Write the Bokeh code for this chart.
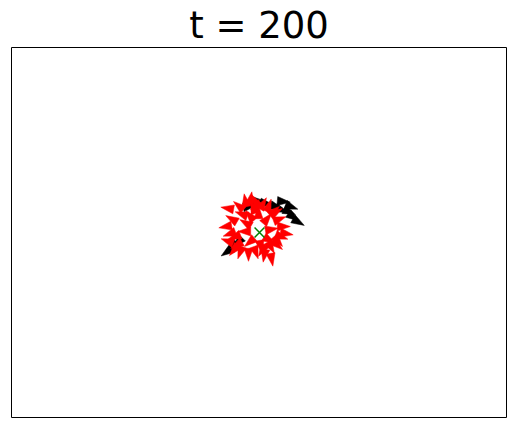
import numpy as np
from bokeh.plotting import figure
from bokeh.models import Range1d
from bokeh.embed import file_html
from bokeh.resources import INLINE

# Positions relative to the swarm centre (x right, y up) and headings in degrees
red_x = [-14, -9, -4, 3, 9, 14, -31, -27, -33, -29, -31, -25, -19, -11, -4, 3, 12,
         19, 23, 21, 17, 11, -9, -1, 7, 11, 9, 1, -9, -14, -13, -20, -22, 16, 26, -6, 5,
         -17, -24, 18, -3]
red_y = [31, 33, 31, 28, 26, 21, 24, 13, 6, -1, -9, -17, -19, -21, -19, -17, -26,
         13, 6, -4, -12, -14, 16, 19, 13, 3, -7, -13, -9, 1, 9, 26, -12, 20, -1, 24, -22,
         18, -4, -8, 26]
red_a = [100, 80, 120, 60, 70, 40, 170, 150, 190, 200, 160, 230, 250, 270, 290, 240, 280,
         20, 0, 340, 320, 300, 130, 90, 50, 10, 330, 280, 220, 180, 150, 140, 210, 30, 350, 110, 260,
         160, 200, 310, 70]

blk_x = [-11, -1, 6, 16, 21, 29, 33, 38, 23, 31, -32, -27, -21]
blk_y = [26, 31, 29, 26, 23, 21, 16, 11, 31, 26, -19, -14, -9]
blk_a = [10, 0, -10, -15, -20, -25, -35, -30, -5, -20, 215, 210, 225]

centre_x = [0]
centre_y = [0]
title_text = "t = 200"

def arrow_shapes(xs, ys, angs, length=13.0, half=4.5):
    pxs, pys = [], []
    for x, y, a in zip(xs, ys, angs):
        r = np.deg2rad(a)
        dx, dy = np.cos(r), np.sin(r)
        nx, ny = -dy, dx
        tipx, tipy = x + length * 0.6 * dx, y + length * 0.6 * dy
        bx, by = x - length * 0.4 * dx, y - length * 0.4 * dy
        pxs.append([tipx, bx + half * nx, bx - half * nx])
        pys.append([tipy, by + half * ny, by - half * ny])
    return pxs, pys

p = figure(width=515, height=426, output_backend="svg", toolbar_location=None,
           frame_width=495, frame_height=370,
           x_range=Range1d(-248, 247), y_range=Range1d(-185, 185),
           min_border_left=11, min_border_right=9, min_border_top=46, min_border_bottom=10)
p.axis.visible = False
p.grid.visible = False
p.outline_line_color = "black"
p.outline_line_width = 1
p.background_fill_color = "white"
p.border_fill_color = "white"

p.title.text = title_text
p.title.text_font = "DejaVu Sans"
p.title.text_font_size = "37px"
p.title.text_font_style = "normal"
p.title.align = "center"
p.title.text_color = "black"
p.title.standoff = 2

bx, by = arrow_shapes(blk_x, blk_y, blk_a)
p.patches(bx, by, fill_color="black", line_color="black", line_width=0.5)
rx, ry = arrow_shapes(red_x, red_y, red_a)
p.patches(rx, ry, fill_color="red", line_color="red", line_width=0.5)

p.scatter(centre_x, centre_y, marker="x", size=14, line_color="green", line_width=1.5)

open("out.html", "w").write(file_html(p, INLINE))
